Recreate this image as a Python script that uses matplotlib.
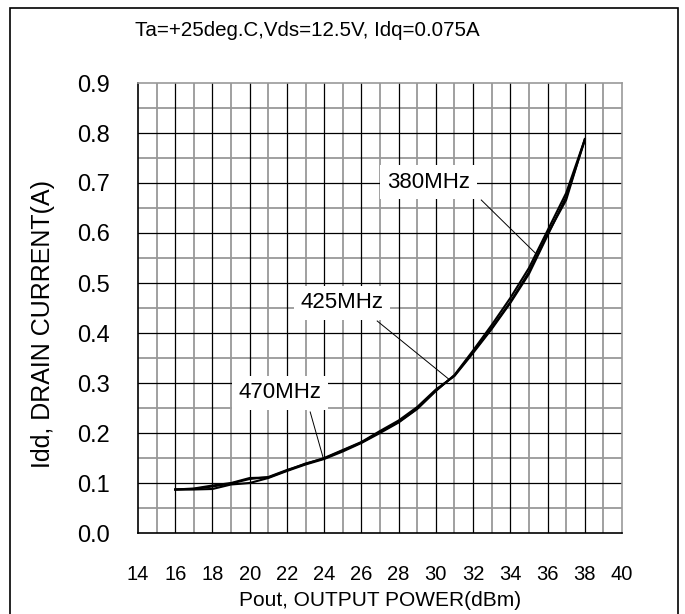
import matplotlib.pyplot as plt
import numpy as np
from matplotlib.patches import Rectangle

plt.rcParams['font.family'] = ['Liberation Sans', 'DejaVu Sans']

# output power (dBm)
pout = [16, 17, 18, 19, 20, 21, 22, 23, 24, 25, 26, 27,
        28, 29, 30, 31, 32, 33, 34, 35, 36, 37, 38]
# drain current (A) for each frequency
idd_380 = [0.087, 0.087, 0.088, 0.097, 0.100, 0.110, 0.124, 0.137, 0.148, 0.163, 0.180, 0.200,
           0.221, 0.248, 0.284, 0.316, 0.365, 0.416, 0.470, 0.530, 0.605, 0.680, 0.787]
idd_425 = [0.087, 0.088, 0.093, 0.099, 0.108, 0.112, 0.126, 0.138, 0.150, 0.166, 0.182, 0.204,
           0.225, 0.252, 0.287, 0.314, 0.360, 0.408, 0.460, 0.518, 0.595, 0.672, 0.785]
idd_470 = [0.087, 0.089, 0.095, 0.100, 0.110, 0.111, 0.125, 0.139, 0.149, 0.165, 0.181, 0.202,
           0.222, 0.249, 0.285, 0.315, 0.362, 0.410, 0.462, 0.522, 0.598, 0.666, 0.788]

x_ticks = np.arange(14, 41, 2)
y_ticks = np.arange(0, 0.91, 0.1)

# label text, label centre, leader start, leader end (data coords)
labels = [
    ('380MHz', (29.6, 0.702), (32.44, 0.666), (35.34, 0.560)),
    ('425MHz', (24.97, 0.460), (26.85, 0.424), (30.72, 0.307)),
    ('470MHz', (21.63, 0.280), (23.25, 0.242), (23.95, 0.150)),
]

fig = plt.figure(figsize=(6.85, 6.14), dpi=100)
# outer frame
fig.patches.append(Rectangle((10 / 685, -0.05), 668 / 685, 1.05 - 8 / 614,
                             transform=fig.transFigure, fill=False,
                             edgecolor='black', linewidth=1.2))

ax = fig.add_axes([138 / 685, 81 / 614, 484 / 685, 450 / 614])

# grid: minor grey, major black
for xv in np.arange(15, 40, 2):
    ax.axvline(xv, color='#999999', linewidth=1.3, zorder=1)
for yv in np.arange(0.05, 0.9, 0.1):
    ax.axhline(yv, color='#999999', linewidth=1.3, zorder=1)
for xv in np.arange(16, 40, 2):
    ax.axvline(xv, color='black', linewidth=0.9, zorder=1.2)
for yv in np.arange(0.1, 0.9, 0.1):
    ax.axhline(yv, color='black', linewidth=0.9, zorder=1.2)

for vals in (idd_380, idd_425, idd_470):
    ax.plot(pout, vals, color='black', linewidth=1.5, zorder=3)

for text, pos, start, end in labels:
    ax.plot([start[0], end[0]], [start[1], end[1]], color='black', linewidth=0.7, zorder=4)
    ax.text(pos[0], pos[1], text, fontsize=16, ha='center', va='center', zorder=5,
            bbox=dict(boxstyle='square,pad=0.3', facecolor='white', edgecolor='none'))

ax.set_xlim(14, 40)
ax.set_ylim(0, 0.9)
ax.set_xticks(x_ticks)
ax.set_yticks(y_ticks)
ax.set_yticklabels([f'{v:.1f}' for v in y_ticks])
ax.tick_params(axis='both', length=0)
ax.tick_params(axis='x', pad=23, labelsize=14.5)
ax.tick_params(axis='y', pad=20, labelsize=17)
ax.spines['left'].set_color('black')
ax.spines['bottom'].set_color('black')
ax.spines['top'].set_color('#999999')
ax.spines['right'].set_color('#999999')
for s in ax.spines.values():
    s.set_linewidth(1.2)

fig.text(135 / 685, 1 - 30 / 614, 'Ta=+25deg.C,Vds=12.5V, Idq=0.075A',
         fontsize=14.8, ha='left', va='center')
fig.text(380 / 685, 1 - 600 / 614, 'Pout, OUTPUT POWER(dBm)',
         fontsize=15, ha='center', va='center')
fig.text(43 / 685, 1 - 324 / 614, 'Idd, DRAIN CURRENT(A)',
         fontsize=18, ha='center', va='center', rotation=90)

fig.savefig('out.png', dpi=100)
